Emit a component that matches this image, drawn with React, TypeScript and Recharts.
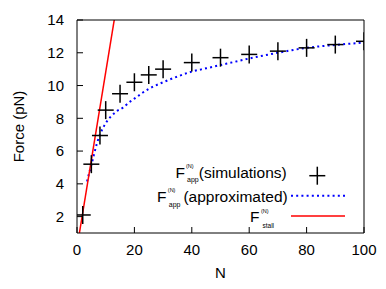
import React from 'react';
import { ComposedChart, Line, Scatter, XAxis, YAxis, Legend } from 'recharts';

// simulated apparent force (crosses)
const simN = [2, 5, 8, 10, 15, 20, 25, 30, 40, 50, 60, 70, 80, 90, 100];
const simF = [2.1, 5.2, 6.95, 8.5, 9.5, 10.2, 10.65, 11.0, 11.4, 11.7, 11.9, 12.1, 12.3, 12.5, 12.7];

// approximated curve (blue dotted)
const approxN = [3.5, 4, 5, 6, 7, 8, 9, 10, 12, 14, 16, 18, 20, 25, 30, 35, 40, 45, 50, 55, 60, 70, 80, 90, 100];
const approxF = [4.15, 4.5, 5.15, 5.85, 6.5, 7.0, 7.4, 7.7, 8.15, 8.45, 8.65, 8.95, 9.2, 9.8, 10.2, 10.55, 10.85, 11.05, 11.25, 11.45, 11.65, 12.0, 12.3, 12.48, 12.62];

// stall force (red line)
const stallN = [0, 14];
const stallF = [0.1, 15.1];

const xTicks = [0, 20, 40, 60, 80, 100];
const yTicks = [2, 4, 6, 8, 10, 12, 14];

const simData = simN.map((n, i) => ({ n, f: simF[i] }));
const approxData = approxN.map((n, i) => ({ n, f: approxF[i] }));
const stallData = stallN.map((n, i) => ({ n, f: stallF[i] }));

const FONT = '"Liberation Sans", Arial, Helvetica, sans-serif';

const Cross = (props: any) => {
  const { cx, cy } = props;
  if (cx == null || cy == null) return null;
  return (
    <g stroke="#000" strokeWidth={1.5}>
      <line x1={cx - 8} y1={cy} x2={cx + 8} y2={cy} />
      <line x1={cx} y1={cy - 9} x2={cx} y2={cy + 9} />
    </g>
  );
};

const KeyBox = () => (
  <svg width={210} height={75} style={{ fontFamily: FONT, display: 'block' }}>
    <g fill="#000">
      <text x={25.5} y={18} fontSize={15.5}>F</text>
      <text x={36} y={8} fontSize={5.5}>(N)</text>
      <text x={37} y={22} fontSize={7}>app</text>
      <text x={136.7} y={18} fontSize={15.5} textAnchor="end">(simulations)</text>

      <text x={7} y={41.7} fontSize={15.5}>F</text>
      <text x={17.8} y={32} fontSize={5.5}>(N)</text>
      <text x={18.8} y={46.5} fontSize={7}>app</text>
      <text x={137.7} y={41.7} fontSize={15.5} textAnchor="end">(approximated)</text>

      <text x={100} y={61.7} fontSize={15.5}>F</text>
      <text x={111} y={53} fontSize={5.5}>(N)</text>
      <text x={112.5} y={67.5} fontSize={6.5}>stall</text>
    </g>
    <g stroke="#000" strokeWidth={1.5}>
      <line x1={159.3} y1={15.7} x2={175.3} y2={15.7} />
      <line x1={167.3} y1={6.7} x2={167.3} y2={24.7} />
    </g>
    <line x1={141} y1={35.7} x2={195} y2={35.7} stroke="#0000ff" strokeWidth={2} strokeDasharray="2 3.2" />
    <line x1={141} y1={56} x2={195} y2={56} stroke="#ff0000" strokeWidth={1.5} />
  </svg>
);

const tickStyle = { fill: '#000', fontSize: 15, fontFamily: FONT };

export default function App() {
  return (
    <ComposedChart width={378} height={281} margin={{ top: 11, right: 21, bottom: 0, left: 0 }}>
      <XAxis
        dataKey="n"
        type="number"
        domain={[0, 100]}
        ticks={xTicks}
        allowDataOverflow
        height={56}
        stroke="#000"
        tickSize={-6}
        tickMargin={17}
        tick={tickStyle}
        label={{ value: 'N', position: 'insideBottom', offset: 11, style: { fill: '#000', fontSize: 15, fontFamily: FONT } }}
      />
      <XAxis
        xAxisId="top"
        orientation="top"
        dataKey="n"
        type="number"
        domain={[0, 100]}
        ticks={xTicks}
        height={1}
        stroke="#000"
        tickSize={-6}
        tickFormatter={() => ''}
      />
      <YAxis
        type="number"
        domain={[1, 14]}
        ticks={yTicks}
        allowDataOverflow
        width={69}
        stroke="#000"
        tickSize={-6}
        tickMargin={19}
        tick={tickStyle}
        label={{ value: 'Force (pN)', angle: -90, position: 'insideLeft', offset: 11, style: { textAnchor: 'middle', fill: '#000', fontSize: 15, fontFamily: FONT } }}
      />
      <YAxis
        yAxisId="right"
        orientation="right"
        type="number"
        domain={[1, 14]}
        ticks={yTicks}
        width={1}
        stroke="#000"
        tickSize={-6}
        tickFormatter={() => ''}
      />
      <Legend
        layout="horizontal"
        verticalAlign="middle"
        align="center"
        content={() => <KeyBox />}
        wrapperStyle={{ left: 142, top: 152, width: 210, height: 75 }}
      />
      <Scatter data={simData} dataKey="f" shape={<Cross />} isAnimationActive={false} />
      <Line
        data={approxData}
        dataKey="f"
        type="monotone"
        stroke="#0000ff"
        strokeWidth={2}
        strokeDasharray="2 3.2"
        dot={false}
        activeDot={false}
        isAnimationActive={false}
      />
      <Line
        data={stallData}
        dataKey="f"
        type="linear"
        stroke="#ff0000"
        strokeWidth={1.5}
        dot={false}
        activeDot={false}
        isAnimationActive={false}
      />
    </ComposedChart>
  );
}
